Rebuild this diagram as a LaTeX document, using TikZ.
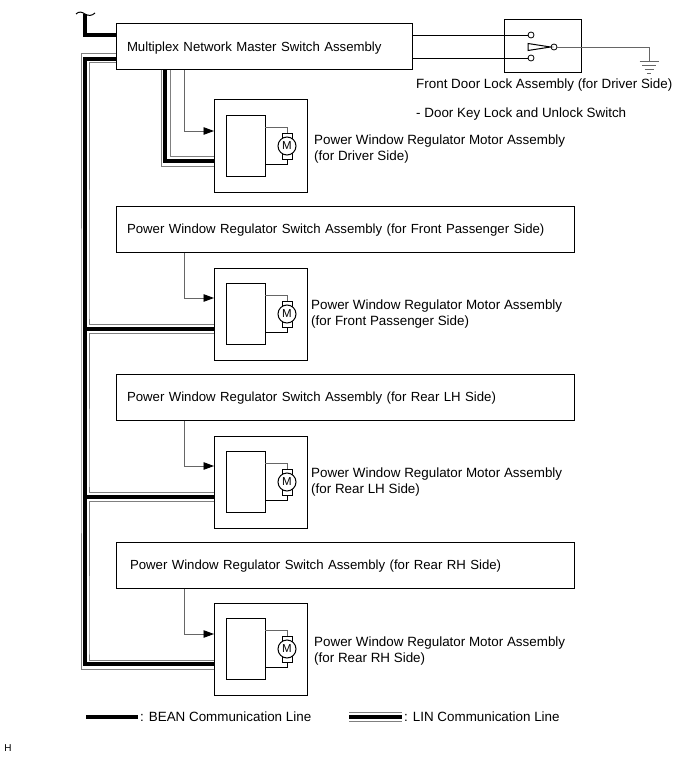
\documentclass[tikz,border=0pt]{standalone}
\usepackage{fontspec}
\setmainfont{Liberation Sans}
\usetikzlibrary{positioning,arrows.meta}

\begin{document}
\begin{tikzpicture}[
  x=1pt, y=-1pt,
  box/.style={draw, line width=1pt, outer sep=0pt, inner xsep=11pt, minimum height=46pt,
              font=\fontsize{13.2}{16}\selectfont, align=left, text width=#1,
              text height=11.5pt, text depth=3pt},
  motorbox/.style={draw, line width=1pt, outer sep=0pt, minimum width=93pt, minimum height=92pt},
  ecubox/.style={draw, line width=1pt, outer sep=0pt, minimum width=39pt, minimum height=61pt},
  nametext/.style={inner sep=0pt, font=\fontsize{13.4}{16}\selectfont, align=left},
  contact/.style={draw, circle, line width=0.8pt, inner sep=0pt, minimum size=6pt},
  wire/.style={line width=0.9pt, black!60},
  darkwire/.style={line width=0.8pt, black},
  arr/.style={wire, -{Stealth[inset=0pt, length=10.5pt, width=7.5pt, black]}},
  bean/.style={line width=4pt, black},
  lin/.style={line width=1pt, black!50}
]
  \useasboundingbox (0,0) rectangle (690,757);

  % Switch assemblies
  \node[box=274pt] (master) at (264,47) {Multiplex Network Master Switch Assembly};
  \node[box=436pt] (switchB) at (345,229.5) {Power Window Regulator Switch Assembly (for Front Passenger Side)};
  \node[box=436pt] (switchC) at (345,397.5) {Power Window Regulator Switch Assembly (for Rear LH Side)};
  \node[box=436pt] (switchD) at (345,565.5) {\hspace{3pt}Power Window Regulator Switch Assembly (for Rear RH Side)};

  % Motor assemblies
  \node[motorbox] (motorA) at (260.5,146) {};
  \node[motorbox] (motorB) at (260.5,314) {};
  \node[motorbox] (motorC) at (260.5,482) {};
  \node[motorbox] (motorD) at (260.5,649) {};

  \foreach \m in {A,B,C,D} {
    \node[ecubox, right=12pt of motor\m.west] (ecu\m) {};
    \node[draw, line width=0.8pt, fill=white, minimum width=10pt, minimum height=26pt,
          inner sep=0pt, outer sep=0pt, right=68pt of motor\m.west] (brush\m) {};
    \node[draw, circle, line width=1pt, fill=white, minimum size=18pt, inner sep=0pt,
          font=\fontsize{11.5}{11.5}\selectfont] (rotor\m) at (brush\m) {M};
    \draw[wire] ([yshift=19pt]ecu\m.east) -| (brush\m.north);
    \draw[darkwire] ([yshift=-18pt]ecu\m.east) -| (brush\m.south);
  }

  \node[nametext, right=7pt of motorA, yshift=-3pt] (labelA) {Power Window Regulator Motor Assembly\\(for Driver Side)};
  \node[nametext, right=4pt of motorB, yshift=0pt] (labelB) {Power Window Regulator Motor Assembly\\(for Front Passenger Side)};
  \node[nametext, right=4pt of motorC, yshift=0pt] (labelC) {Power Window Regulator Motor Assembly\\(for Rear LH Side)};
  \node[nametext, right=7pt of motorD, yshift=-2pt] (labelD) {Power Window Regulator Motor Assembly\\(for Rear RH Side)};

  % Door lock switch
  \node[draw, line width=1pt, outer sep=0pt, minimum width=77pt, minimum height=53pt] (lock) at (542.5,46.5) {};
  \node[contact] (contactUp) at (531,35) {};
  \node[contact] (contactDown) at (531,58) {};
  \node[contact] (pivot) at (554,47) {};
  \coordinate (leverUp) at (528,43.5);
  \coordinate (leverDown) at (528,50.5);
  \coordinate (earth) at (649,61);
  \draw[line width=1pt] (pivot.west) -- (leverUp) -- (leverDown) -- cycle;
  \draw[darkwire] (contactUp.west) -- (contactUp.west -| master.east);
  \draw[darkwire] (contactDown.west) -- (contactDown.west -| master.east);
  \draw[wire] (pivot.east) -| (earth);
  \draw[wire] ([xshift=-9.5pt]earth) -- ([xshift=9.5pt]earth);
  \draw[wire] ([xshift=-7pt,yshift=-4pt]earth) -- ([xshift=7pt,yshift=-4pt]earth);
  \draw[wire] ([xshift=-4.5pt,yshift=-8pt]earth) -- ([xshift=4.5pt,yshift=-8pt]earth);
  \draw[wire] ([xshift=-2pt,yshift=-12pt]earth) -- ([xshift=2pt,yshift=-12pt]earth);
  \node[nametext, anchor=west] (lockName) at (416,85) {Front Door Lock Assembly (for Driver Side)};
  \node[nametext, anchor=west] (lockItem) at (416,114) {- Door Key Lock and Unlock Switch};

  % Signal lines to the motors
  \coordinate (tapX) at (184,100);
  \draw[arr] (master.south -| tapX) |- ([yshift=15pt]motorA.west);
  \draw[arr] (switchB.south -| tapX) |- ([yshift=16pt]motorB.west);
  \draw[arr] (switchC.south -| tapX) |- ([yshift=16pt]motorC.west);
  \draw[arr] (switchD.south -| tapX) |- ([yshift=15pt]motorD.west);

  % Driver side pair
  \coordinate (driverOuter) at (161,120);
  \coordinate (driverBean) at (165,120);
  \coordinate (driverInner) at (170,120);
  \draw[lin] (master.south -| driverOuter) |- ([yshift=-20pt]motorA.west);
  \draw[lin] (master.south -| driverInner) |- ([yshift=-10pt]motorA.west);
  \draw[bean] (master.south -| driverBean) |- ([yshift=-15pt]motorA.west);

  % Trunk to the other motors
  \coordinate (trunkOuter) at (81,400);
  \coordinate (trunkBean) at (85,400);
  \coordinate (trunkInner) at (89,400);
  \draw[lin] ([yshift=-7pt]master.west) -| (trunkOuter) |- ([yshift=-20pt]motorD.west);
  \draw[lin] ([yshift=-16pt]master.west) -| (trunkInner |- motorB) |- ([yshift=-10pt]motorB.west);
  \draw[lin] ([yshift=-19pt]motorB.west) -| (trunkInner |- motorC) |- ([yshift=-10pt]motorC.west);
  \draw[lin] ([yshift=-19pt]motorC.west) -| (trunkInner |- motorD) |- ([yshift=-11pt]motorD.west);
  \draw[bean] ([yshift=-12pt]master.west) -| (trunkBean) |- ([yshift=-15pt]motorD.west);
  \draw[bean] (trunkBean |- motorB.west) ++(0,15) -- ([yshift=-15pt]motorB.west);
  \draw[bean] (trunkBean |- motorC.west) ++(0,15) -- ([yshift=-15pt]motorC.west);

  % Line coming in from the harness
  \coordinate (breakL) at (76,14);
  \coordinate (breakM) at (85,14);
  \coordinate (breakR) at (95,13);
  \draw[bean] ([yshift=12pt]master.west) -| (breakM);
  \draw[line width=1pt] (breakL) .. controls (79,11) and (82,12) .. (breakM) .. controls (88,16) and (92,16) .. (breakR);

  % Key
  \coordinate (beanStart) at (86,717);
  \coordinate (linStart) at (349,717);
  \node[nametext, inner xsep=2pt, anchor=base west] (beanKey) at (138,721.5) {: BEAN Communication Line};
  \node[nametext, inner xsep=2pt, anchor=base west] (linKey) at (402,721.5) {: LIN Communication Line};
  \draw[bean] (beanStart) -- (beanStart -| beanKey.west);
  \draw[bean] (linStart) -- (linStart -| linKey.west);
  \draw[lin] ([yshift=4.5pt]linStart) -- ([yshift=4.5pt]linStart -| linKey.west);
  \draw[lin] ([yshift=-4.5pt]linStart) -- ([yshift=-4.5pt]linStart -| linKey.west);

  \node[inner sep=0pt, font=\fontsize{10}{10}\selectfont] (sheet) at (8,748) {H};
\end{tikzpicture}
\end{document}
